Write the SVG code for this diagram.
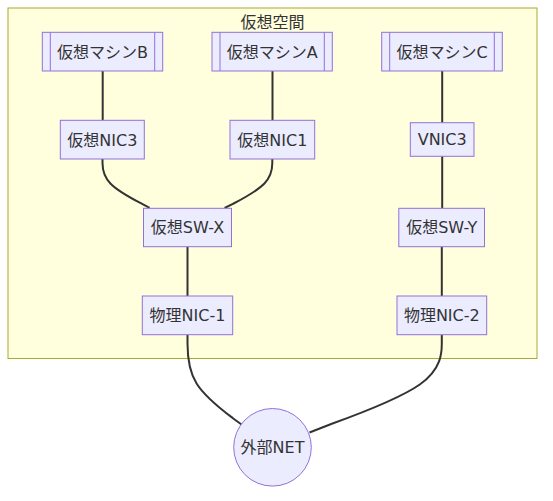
<svg xmlns="http://www.w3.org/2000/svg" width="553" height="501" viewBox="0 0 553 501">
<style>
.cl{fill:#ffffde;stroke:#aaaa33;stroke-width:1}
.n{fill:#ECECFF;stroke:#9370DB;stroke-width:1}
.sl{stroke:#9370DB;stroke-width:1;fill:none}
.e{fill:none;stroke:#333333;stroke-width:2}
text{font-family:"DejaVu Sans","Noto Sans CJK JP",sans-serif;font-size:16px;fill:#333333;text-anchor:middle}
</style>
<rect width="553" height="501" fill="#ffffff"/>
<g id="cluster-vspace">
<rect class="cl" x="8" y="8" width="529" height="350.5"/>
<text x="272.5" y="27.5">仮想空間</text>
</g>
<g id="edges">
<path class="e" d="M102.7,71 V120.3"/>
<path class="e" d="M272.5,71 V120.3"/>
<path class="e" d="M442.2,71 V122.7"/>
<path class="e" d="M102.5,159 L102.5,163.1 C102.5,167.2 102.5,175.3 110.4,183.5 C118.3,191.7 134.2,199.8 142.1,203.9 L149.6,207.8"/>
<path class="e" d="M272.3,159 L272.3,163.1 C272.3,167.2 272.3,175.3 264.4,183.5 C256.5,191.7 240.8,199.8 232.9,203.9 L224.6,208"/>
<path class="e" d="M442.2,156.3 V208.3"/>
<path class="e" d="M187.5,246.7 V296"/>
<path class="e" d="M441.8,246.7 V296"/>
<path class="e" d="M187.5,334.7 L187.5,343.5 C187.5,352 187.5,369 196.6,383.5 C205.7,398 223.8,411.3 232.9,418.2 L241.5,424.5"/>
<path class="e" d="M441.8,334.7 L441.8,343.5 C441.8,352 441.8,369 419.8,384.5 C397.7,400 353.3,416 331.2,424 L309.5,432.5"/>
</g>
<g id="node-vmB">
<rect class="n" x="42.3" y="32.3" width="120.4" height="38.7"/>
<path class="sl" d="M50.3,32.3 V71 M154.7,32.3 V71"/>
<text x="102.5" y="57.5">仮想マシンB</text>
</g>
<g id="node-vmA">
<rect class="n" x="212" y="32.3" width="120.3" height="38.7"/>
<path class="sl" d="M220,32.3 V71 M324.3,32.3 V71"/>
<text x="272.2" y="57.5">仮想マシンA</text>
</g>
<g id="node-vmC">
<rect class="n" x="381.7" y="32.3" width="120.6" height="38.7"/>
<path class="sl" d="M389.7,32.3 V71 M494.3,32.3 V71"/>
<text x="442" y="57.5">仮想マシンC</text>
</g>
<g id="node-nic3">
<rect class="n" x="60.3" y="120.3" width="84" height="38.7"/>
<text x="102.3" y="145.5">仮想NIC3</text>
</g>
<g id="node-nic1">
<rect class="n" x="230" y="120.3" width="84.7" height="38.7"/>
<text x="272.3" y="145.5">仮想NIC1</text>
</g>
<g id="node-vnic3">
<rect class="n" x="410.3" y="122.7" width="63.7" height="33.6"/>
<text x="442.2" y="145.3">VNIC3</text>
</g>
<g id="node-swx">
<rect class="n" x="143.5" y="208.3" width="88" height="38.4"/>
<text x="187.5" y="233.3">仮想SW-X</text>
</g>
<g id="node-swy">
<rect class="n" x="398.8" y="208.3" width="85.7" height="38.4"/>
<text x="441.7" y="233.3">仮想SW-Y</text>
</g>
<g id="node-pnic1">
<rect class="n" x="142.3" y="296" width="90.4" height="38.7"/>
<text x="187.5" y="321">物理NIC-1</text>
</g>
<g id="node-pnic2">
<rect class="n" x="397" y="296" width="89.7" height="38.7"/>
<text x="441.8" y="321">物理NIC-2</text>
</g>
<g id="node-ext">
<circle class="n" cx="272.5" cy="447.3" r="38.8"/>
<text x="272.5" y="453">外部NET</text>
</g>
</svg>
